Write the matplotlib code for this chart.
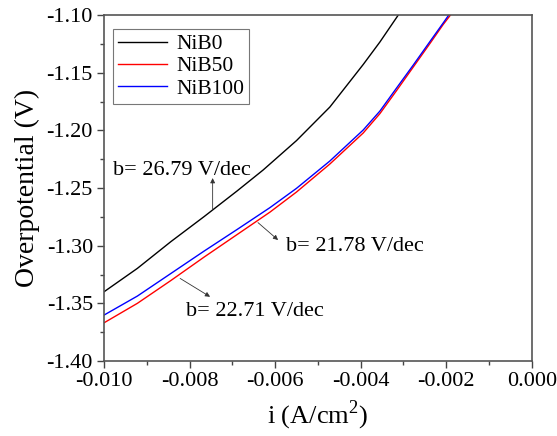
"""
Tafel-type polarisation curves for NiB coatings
"""

import matplotlib
matplotlib.use('Agg')
import matplotlib.pyplot as plt
from matplotlib.ticker import MultipleLocator, FormatStrFormatter

plt.rcParams['font.family'] = ['Liberation Serif', 'DejaVu Serif']
plt.rcParams['axes.unicode_minus'] = False
plt.rcParams['mathtext.fontset'] = 'custom'
plt.rcParams['mathtext.rm'] = 'Liberation Serif'

# data
i_nib0 = [-0.01000, -0.00922, -0.00844, -0.00766, -0.00689, -0.00628, -0.00550,
          -0.00472, -0.00394, -0.00355, -0.00312]
e_nib0 = [-1.3400, -1.3197, -1.2966, -1.2748, -1.2526, -1.2344, -1.2089,
          -1.1798, -1.1429, -1.1234, -1.1000]

i_nib100 = [-0.01000, -0.00922, -0.00844, -0.00766, -0.00689, -0.00612, -0.00550,
            -0.00472, -0.00394, -0.00355, -0.00316, -0.00277, -0.00238, -0.00207,
            -0.00194]
e_nib100 = [-1.3602, -1.3437, -1.3242, -1.3047, -1.2860, -1.2670, -1.2503,
            -1.2266, -1.1997, -1.1833, -1.1633, -1.1434, -1.1230, -1.1069,
            -1.1000]

i_nib50 = [-0.01000, -0.00922, -0.00844, -0.00766, -0.00689, -0.00612, -0.00550,
           -0.00472, -0.00394, -0.00355, -0.00316, -0.00277, -0.00238, -0.00207,
           -0.00190]
e_nib50 = [-1.3669, -1.3500, -1.3303, -1.3099, -1.2904, -1.2709, -1.2535,
           -1.2292, -1.2023, -1.1855, -1.1655, -1.1451, -1.1247, -1.1082,
           -1.1000]

labels = ['NiB0', 'NiB50', 'NiB100']
slopes = ['b= 26.79 V/dec', 'b= 21.78 V/dec', 'b= 22.71 V/dec']

fig = plt.figure(figsize=(5.57, 4.36), dpi=100)
ax = fig.add_axes([0.1867, 0.172, 0.768, 0.7936])

ax.plot(i_nib0, e_nib0, color='black', lw=1.0, label=labels[0])
ax.plot(i_nib50, e_nib50, color='red', lw=1.0, label=labels[1])
ax.plot(i_nib100, e_nib100, color='blue', lw=1.0, label=labels[2])

ax.set_xlim(-0.010, 0.000)
ax.set_ylim(-1.40, -1.10)
ax.xaxis.set_major_locator(MultipleLocator(0.002))
ax.xaxis.set_minor_locator(MultipleLocator(0.001))
ax.yaxis.set_major_locator(MultipleLocator(0.05))
ax.yaxis.set_minor_locator(MultipleLocator(0.025))
ax.xaxis.set_major_formatter(FormatStrFormatter('%.3f'))
ax.yaxis.set_major_formatter(FormatStrFormatter('%.2f'))

ax.tick_params(which='both', direction='out', top=False, right=False,
               labelsize=16, color='#444444')
ax.tick_params(which='major', length=5, width=1.0, pad=3)
ax.tick_params(which='minor', length=3, width=1.0)
for sp in ax.spines.values():
    sp.set_color('#555555')
    sp.set_linewidth(1.2)

ax.set_xlabel('i (A/cm$^2$)', fontsize=19, labelpad=5)
ax.set_ylabel('Overpotential (V)', fontsize=20, labelpad=5)

leg = ax.legend(loc='upper left', fontsize=15.5, frameon=True, fancybox=False,
                handlelength=2.3, handletextpad=0.4, borderpad=0.25,
                labelspacing=0.1, borderaxespad=0.4, bbox_to_anchor=(0.0, 0.985))
leg.get_frame().set_edgecolor('#555555')
leg.get_frame().set_linewidth(0.8)

arrow = dict(arrowstyle='-|>', color='#333333', lw=0.6, mutation_scale=7,
             shrinkA=0, shrinkB=0)
ax.annotate('', xy=(-0.00746, -1.2414), xytext=(-0.00746, -1.2691), arrowprops=arrow)
ax.text(-0.00979, -1.2344, slopes[0], fontsize=16, va='center', ha='left')

ax.annotate('', xy=(-0.00593, -1.2951), xytext=(-0.00640, -1.2800), arrowprops=arrow)
ax.text(-0.00575, -1.3010, slopes[1], fontsize=16, va='center', ha='left')

ax.annotate('', xy=(-0.00752, -1.3443), xytext=(-0.00822, -1.3284), arrowprops=arrow)
ax.text(-0.00808, -1.3573, slopes[2], fontsize=16, va='center', ha='left')

fig.savefig('out.png', dpi=100)
